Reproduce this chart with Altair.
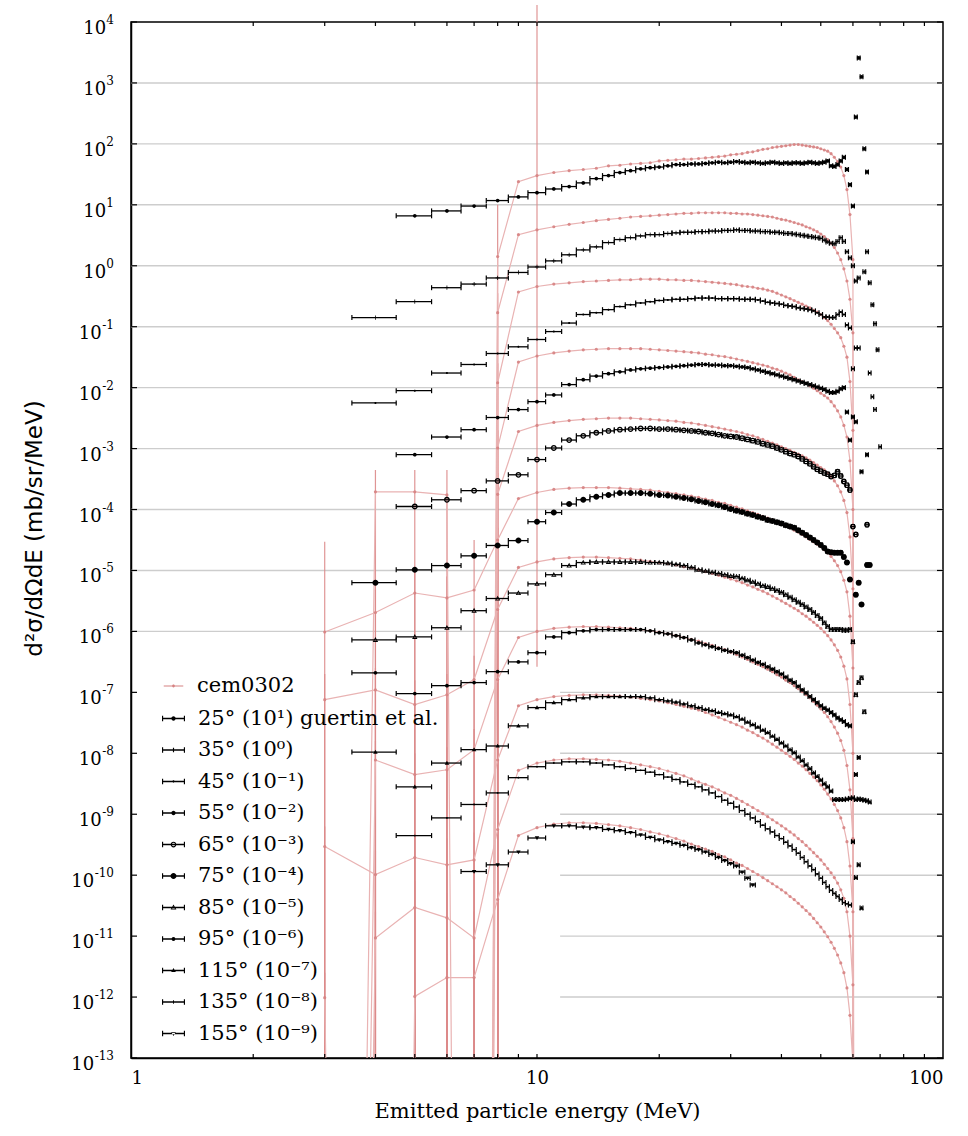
import altair as alt
import pandas as pd

# ---------------------------------------------------------------------------
# Double-differential proton spectra, measured (Guertin et al.) vs cem0302.
# Every angle is drawn multiplied by 10^p (p listed in POWERS).
# Values are log10 of d2sigma/dOmega dE in mb/sr/MeV, 1 MeV bins.
# ---------------------------------------------------------------------------
ANGLES = [25, 35, 45, 55, 65, 75, 85, 95, 115, 135, 155]
POWERS = [1, 0, -1, -2, -3, -4, -5, -6, -7, -8, -9]

# centre (MeV) of the first bin of each measured spectrum
EXP_FIRST_E = [5, 4, 4, 5, 5, 4, 4, 4, 4, 5, 7]

exp_25 = [-0.18, -0.10, -0.02, 0.07, 0.13, 0.20, 0.26, 0.30, 0.36, 0.43, 0.48, 0.53, 0.56, 0.59, 0.61,
          0.62, 0.64, 0.66, 0.66, 0.67, 0.67,
          0.68, 0.69, 0.70, 0.69, 0.70, 0.71, 0.70, 0.69, 0.70, 0.69, 0.68, 0.69, 0.70, 0.69, 0.68,
          0.69, 0.68, 0.69, 0.69, 0.68, 0.69, 0.70, 0.69, 0.68, 0.69,
          0.70, 0.72, 0.64, 0.63, 0.66, 0.72, 0.78]
exp_35 = [-0.85, -0.59, -0.36, -0.30, -0.20, -0.11, -0.02, 0.08, 0.18, 0.26, 0.31, 0.38, 0.43, 0.46,
          0.49, 0.51, 0.51, 0.53,
          0.54, 0.55, 0.55, 0.56, 0.56, 0.57, 0.57, 0.58, 0.58, 0.59, 0.58, 0.58, 0.57, 0.57,
          0.56, 0.56, 0.55, 0.55, 0.54, 0.53, 0.53, 0.52, 0.51, 0.50, 0.49, 0.48, 0.47, 0.46, 0.45,
          0.42, 0.39, 0.37, 0.36, 0.40, 0.46, 0.40]
exp_45 = [-1.25, -1.05, -0.76, -0.62, -0.44, -0.33, -0.21, -0.08, 0.06, 0.20, 0.23, 0.28, 0.33, 0.36,
          0.39, 0.41, 0.43,
          0.44, 0.45, 0.45, 0.46, 0.47, 0.47, 0.47, 0.46, 0.46, 0.46, 0.46, 0.45, 0.45, 0.45, 0.44,
          0.42, 0.40, 0.39, 0.38, 0.37, 0.35, 0.34, 0.33, 0.31, 0.30, 0.29, 0.28, 0.26, 0.23, 0.20,
          0.16, 0.16, 0.15, 0.15, 0.20, 0.24, 0.20]
exp_55 = [-1.10, -0.81, -0.69, -0.49, -0.36, -0.23, -0.12, 0.05, 0.13, 0.19, 0.23, 0.26, 0.29, 0.31,
          0.32, 0.33,
          0.34, 0.35, 0.36, 0.37, 0.38, 0.38, 0.37, 0.37, 0.36, 0.36, 0.35, 0.34, 0.33, 0.31, 0.29,
          0.27, 0.25, 0.23, 0.21, 0.19, 0.17, 0.15, 0.13, 0.11, 0.09, 0.07, 0.05, 0.03, 0.01, -0.01,
          -0.03, -0.06, -0.08, -0.08, -0.06, -0.02, 0.00]
exp_65 = [-0.95, -0.84, -0.69, -0.53, -0.43, -0.18, 0.01, 0.14, 0.21, 0.26, 0.29, 0.31, 0.32, 0.33,
          0.33, 0.32,
          0.32, 0.31, 0.30, 0.29, 0.28, 0.26, 0.25, 0.23, 0.21, 0.20, 0.19, 0.17, 0.15, 0.13, 0.11,
          0.08, 0.06, 0.04, 0.01, -0.02, -0.05, -0.08, -0.10, -0.13, -0.17, -0.21, -0.25, -0.30,
          -0.34, -0.37,
          -0.40, -0.42, -0.46, -0.44, -0.38, -0.45, -0.54]
exp_75 = [-1.20, -0.99, -0.92, -0.76, -0.59, -0.51, -0.20, -0.05, 0.09, 0.16, 0.21, 0.24, 0.27, 0.27,
          0.27, 0.26, 0.24,
          0.23, 0.21, 0.19, 0.17, 0.14, 0.12, 0.09, 0.07, 0.04, 0.01, -0.02, -0.04, -0.07, -0.09,
          -0.12,
          -0.14, -0.17, -0.19, -0.21, -0.23, -0.26, -0.28, -0.30, -0.34, -0.38, -0.42, -0.46, -0.50,
          -0.54, -0.58,
          -0.63, -0.69, -0.70, -0.71, -0.71, -0.71, -0.78]
exp_85 = [-1.14, -1.09, -0.94, -0.66, -0.46, -0.37, -0.22, -0.07, 0.08, 0.13, 0.14, 0.14, 0.14, 0.14,
          0.14, 0.13, 0.13,
          0.12, 0.10, 0.08, 0.05, 0.01, -0.01, -0.03, -0.05, -0.07, -0.09, -0.10, -0.13, -0.16,
          -0.19, -0.22,
          -0.25, -0.27, -0.30, -0.33, -0.36, -0.40, -0.44, -0.48, -0.52, -0.56, -0.60, -0.64, -0.69,
          -0.74, -0.79,
          -0.86, -0.92, -0.97, -0.97, -0.97, -0.97, -0.98]
exp_95 = [-0.68, -1.02, -0.89, -0.84, -0.66, -0.50, -0.35, -0.09, -0.02, 0.01, 0.03, 0.03, 0.03, 0.03,
          0.03, 0.01, -0.02,
          -0.04, -0.07, -0.10, -0.14, -0.19, -0.22, -0.25, -0.28, -0.31, -0.33, -0.35, -0.39, -0.43,
          -0.47, -0.51,
          -0.54, -0.58, -0.62, -0.66, -0.70, -0.75, -0.80, -0.84, -0.90, -0.96, -1.01, -1.07, -1.12,
          -1.17, -1.22,
          -1.26, -1.29, -1.33, -1.37, -1.42, -1.45, -1.48]
exp_115 = [-0.98, -1.55, -1.16, -0.94, -0.88, -0.55, -0.25, -0.17, -0.12, -0.09, -0.07, -0.07, -0.07,
           -0.07, -0.07, -0.09, -0.12,
           -0.14, -0.16, -0.19, -0.22, -0.25, -0.28, -0.30, -0.33, -0.35, -0.37, -0.40, -0.44, -0.49,
           -0.53, -0.57,
           -0.62, -0.66, -0.72, -0.77, -0.83, -0.88, -0.94, -0.99, -1.06, -1.12, -1.19, -1.25, -1.32,
           -1.38, -1.44,
           -1.50, -1.55, -1.62, -1.76, -1.76, -1.76, -1.76]
exp_135 = [-1.35, -1.06, -0.84, -0.65, -0.40, -0.22, -0.16, -0.14, -0.14, -0.16, -0.19, -0.22, -0.25,
           -0.28, -0.31, -0.35,
           -0.39, -0.43, -0.47, -0.51, -0.55, -0.60, -0.65, -0.71, -0.77, -0.82, -0.88, -0.94, -1.00,
           -1.06, -1.12,
           -1.18, -1.24, -1.29, -1.35, -1.40, -1.46, -1.52, -1.58, -1.64, -1.71, -1.78, -1.85, -1.91,
           -1.98, -2.05,
           -2.12, -2.19, -2.25, -2.30, -2.35, -2.40, -2.45]
exp_155 = [-0.94, -0.83, -0.62, -0.39, -0.19, -0.19, -0.21, -0.22, -0.25, -0.27, -0.30, -0.34, -0.38,
           -0.42,
           -0.45, -0.48, -0.51, -0.55, -0.58, -0.62, -0.66, -0.71, -0.76, -0.81, -0.85, -0.95, -1.05,
           -1.16]

# end-point region above 57 MeV: (bin centre MeV, log10 value)
tail_25 = [(58, 0.58), (59, 0.33), (60, -0.02), (61, 1.44), (62, 2.41), (63, 2.10), (64, 0.92), (65, 0.54)]
tail_35 = [(58, 0.23), (59, 0.13), (60, 0.00), (61, -0.25), (62, -0.20), (64, -0.10), (65, 0.23),
           (66, -0.28), (67, -0.64), (68, -0.95), (69, -1.38)]
tail_45 = [(58, 0.03), (59, -0.02), (60, -0.69), (61, -0.35), (62, -0.35), (66, -0.76), (67, -1.15),
           (68, -1.36), (70, -1.97)]
tail_55 = [(58, -0.40), (59, -0.86), (60, -0.48), (61, -0.56), (63, -1.38), (65, -1.10)]
tail_65 = [(58, -0.60), (59, -0.68), (60, -1.28), (61, -1.41), (65, -1.25)]
tail_75 = [(58, -0.87), (59, -1.15), (61, -1.40), (62, -1.20), (63, -1.56), (65, -0.91), (66, -0.91)]
tail_85 = [(58, -0.98), (59, -0.97), (60, -1.17), (61, -2.04), (62, -1.84), (63, -1.76), (64, -2.32)]
tail_95 = [(58, -1.53), (59, -1.55), (61, -2.35), (62, -2.07)]
tail_115 = [(58, -1.75), (59, -1.74), (60, -1.73), (61, -1.76), (62, -1.75), (63, -1.76), (64, -1.77),
            (65, -1.78), (66, -1.80), (60, -2.45), (61, -3.04), (62, -2.83), (63, -3.54)]
tail_135 = [(58, -2.47), (59, -2.49)]
tail_155 = []

# cem0302 calculation, bins from 3 MeV to 61 MeV; None = empty bin (zero cross-section)
CEM_FIRST_E = 3
cem_25 = [None, None, None, None, None, -0.85,
          0.38, 0.48, 0.53, 0.56, 0.58, 0.60, 0.64, 0.65, 0.67, 0.68, 0.69, 0.72, 0.73, 0.74,
          0.75, 0.75, 0.76, 0.77, 0.78, 0.79, 0.80, 0.82, 0.83, 0.84, 0.86, 0.87, 0.89, 0.91, 0.92,
          0.94, 0.95, 0.96, 0.97, 0.98, 0.99, 0.99, 0.98, 0.97, 0.96, 0.95, 0.94, 0.92, 0.90, 0.88,
          0.84, 0.78, 0.71, 0.62, 0.48, 0.25, -0.16, -0.90, None]
cem_35 = [None, None, None, None, None, -0.77,
          0.51, 0.59, 0.64, 0.68, 0.71, 0.74, 0.76, 0.78, 0.80, 0.81, 0.82, 0.83, 0.84, 0.85,
          0.86, 0.86, 0.87, 0.87, 0.87, 0.87, 0.87, 0.86, 0.86, 0.85, 0.85, 0.84, 0.83, 0.82, 0.81,
          0.80, 0.78, 0.76, 0.75, 0.73, 0.71, 0.69, 0.67, 0.64, 0.62, 0.59, 0.56, 0.52, 0.48, 0.43,
          0.37, 0.30, 0.21, 0.10, -0.05, -0.25, -0.55, -1.10, None]
cem_45 = [None, None, None, None, None, -0.92,
          0.57, 0.66, 0.70, 0.72, 0.74, 0.75, 0.76, 0.77, 0.77, 0.78, 0.78, 0.78, 0.77, 0.77,
          0.76, 0.76, 0.75, 0.74, 0.73, 0.72, 0.71, 0.70, 0.69, 0.67, 0.66, 0.65, 0.63, 0.62, 0.60,
          0.58, 0.55, 0.52, 0.49, 0.46, 0.43, 0.40, 0.37, 0.34, 0.31, 0.27, 0.24, 0.20, 0.15, 0.10,
          0.04, -0.03, -0.10, -0.18, -0.32, -0.50, -0.90, -1.70, None]
cem_55 = [None, -1.71, -1.71, -1.76, None, -0.99,
          0.42, 0.52, 0.57, 0.60, 0.62, 0.63, 0.64, 0.64, 0.64, 0.64, 0.63, 0.62, 0.61, 0.60,
          0.59, 0.58, 0.57, 0.55, 0.54, 0.52, 0.51, 0.49, 0.47, 0.45, 0.43, 0.41, 0.39, 0.37, 0.35,
          0.32, 0.30, 0.27, 0.24, 0.21, 0.17, 0.13, 0.10, 0.07, 0.03, -0.01, -0.05, -0.09, -0.13,
          -0.17, -0.23, -0.30, -0.38, -0.48, -0.62, -0.81, -1.20, -2.00, None]
cem_65 = [None, None, None, None, None, -0.75,
          0.28, 0.38, 0.43, 0.46, 0.48, 0.49, 0.50, 0.50, 0.50, 0.49, 0.48, 0.47, 0.46, 0.45,
          0.43, 0.42, 0.40, 0.38, 0.36, 0.34, 0.32, 0.30, 0.28, 0.26, 0.23, 0.21, 0.18, 0.15, 0.12,
          0.09, 0.06, 0.03, 0.00, -0.03, -0.06, -0.09, -0.12, -0.15, -0.19, -0.23, -0.27, -0.31,
          -0.35, -0.40, -0.46, -0.53, -0.61, -0.71, -0.85, -1.05, -1.45, -2.30, None]
cem_75 = [-2.01, -1.69, -1.37, -1.45, -1.32, -0.50,
          0.18, 0.28, 0.33, 0.35, 0.36, 0.36, 0.36, 0.35, 0.34, 0.33, 0.32, 0.30, 0.28, 0.26,
          0.24, 0.22, 0.20, 0.17, 0.15, 0.12, 0.10, 0.07, 0.04, 0.01, -0.02, -0.05, -0.08, -0.11,
          -0.14, -0.17, -0.21, -0.24, -0.27, -0.30, -0.34, -0.37, -0.41, -0.45, -0.49, -0.53, -0.57,
          -0.61, -0.66, -0.71, -0.77, -0.84, -0.92, -1.02, -1.16, -1.35, -1.75, -2.60, None]
cem_85 = [-2.12, -1.96, -2.20, -2.04, -1.79, -0.64,
          0.05, 0.14, 0.19, 0.21, 0.22, 0.22, 0.21, 0.20, 0.19, 0.17, 0.15, 0.13, 0.11, 0.09,
          0.06, 0.04, 0.01, -0.02, -0.05, -0.08, -0.11, -0.14, -0.17, -0.20, -0.24, -0.27, -0.31,
          -0.34, -0.38, -0.42, -0.46, -0.50, -0.54, -0.58, -0.62, -0.66, -0.71, -0.75, -0.80, -0.85,
          -0.90, -0.95, -1.01, -1.07, -1.14, -1.22, -1.31, -1.42, -1.57, -1.78, -2.20, -3.00, None]
cem_95 = [None, -2.11, -2.35, -2.27, -1.94, -0.79,
          -0.10, 0.00, 0.05, 0.07, 0.08, 0.08, 0.07, 0.06, 0.05, 0.03, 0.01, -0.01, -0.04,
          -0.07, -0.10, -0.13, -0.16, -0.20, -0.23, -0.27, -0.30, -0.34, -0.38, -0.42, -0.46, -0.50,
          -0.54, -0.58, -0.62, -0.66, -0.71, -0.75, -0.80, -0.84, -0.89, -0.94, -0.99, -1.04, -1.09,
          -1.15, -1.21, -1.27, -1.33, -1.40, -1.48, -1.57, -1.67, -1.79, -1.95, -2.20, -2.60, -3.40,
          None]
cem_115 = [-2.53, -2.99, -2.71, -2.83, -2.75, -1.11,
           -0.22, -0.12, -0.07, -0.05, -0.04, -0.04, -0.05, -0.06, -0.08, -0.10, -0.12,
           -0.14, -0.17, -0.20, -0.23, -0.26, -0.29, -0.33, -0.37, -0.41, -0.45, -0.49, -0.53, -0.57,
           -0.62, -0.66, -0.71, -0.75, -0.80, -0.85, -0.90, -0.95, -1.00, -1.05, -1.10, -1.16, -1.21,
           -1.27, -1.33, -1.39, -1.45, -1.52, -1.59, -1.67, -1.75, -1.84, -1.94, -2.06, -2.22, -2.45,
           -2.85, -3.60, None]
cem_135 = [None, -3.03, -2.53, -2.70, -3.03, -1.25,
           -0.28, -0.16, -0.11, -0.09, -0.09, -0.10, -0.11, -0.13, -0.16, -0.19, -0.22,
           -0.25, -0.29, -0.33, -0.37, -0.42, -0.47, -0.51, -0.55, -0.60, -0.65, -0.69, -0.74, -0.79,
           -0.84, -0.89, -0.94, -0.99, -1.04, -1.09, -1.14, -1.19, -1.24, -1.29, -1.34, -1.40, -1.45,
           -1.51, -1.57, -1.63, -1.69, -1.75, -1.82, -1.89, -1.96, -2.04, -2.13, -2.24, -2.38, -2.60,
           -3.00, -3.80, None]
cem_155 = [-3.01, None, -2.99, -2.68, -2.68, -1.40,
           -0.35, -0.22, -0.16, -0.14, -0.14, -0.15, -0.17, -0.19, -0.22, -0.25, -0.29,
           -0.32, -0.36, -0.40, -0.44, -0.49, -0.53, -0.57, -0.61, -0.66, -0.70, -0.75, -0.80, -0.84,
           -0.89, -0.94, -0.99, -1.04, -1.09, -1.14, -1.19, -1.24, -1.29, -1.35, -1.40, -1.46, -1.52,
           -1.58, -1.64, -1.71, -1.78, -1.85, -1.93, -2.01, -2.10, -2.20, -2.31, -2.44, -2.60, -2.85,
           -3.30, -4.10, None]

# statistical error bars of the calculation that are large enough to see:
# (angle, energy, log10 lower, log10 upper); lower None = bar reaches zero
cem_errors = [(25, 8, None, 0.00), (35, 8, None, -0.45), (45, 8, None, -0.60),
              (55, 4, None, -1.35), (55, 5, None, -1.35), (55, 6, None, -1.35), (55, 8, None, -0.70),
              (65, 8, None, -0.40),
              (75, 3, None, -0.53), (75, 4, None, -1.30), (75, 5, None, -1.00), (75, 6, None, -1.10),
              (75, 7, None, -0.50), (75, 8, None, -0.30),
              (85, 3, None, -1.70), (85, 4, None, -1.60), (85, 5, None, -1.80), (85, 6, None, -1.70),
              (85, 7, None, -1.40), (85, 8, None, -0.45),
              (95, 4, None, -1.80), (95, 5, None, -2.00), (95, 6, None, -1.90), (95, 7, None, -1.60),
              (95, 8, None, -0.60), (95, 10, -0.58, 10.28),
              (115, 3, None, -2.20), (115, 4, None, -2.60), (115, 5, None, -2.30), (115, 6, None, -2.40),
              (115, 7, None, -2.30), (115, 8, None, -0.90),
              (135, 4, None, -2.60), (135, 5, None, -2.10), (135, 6, None, -2.30), (135, 7, None, -2.60),
              (135, 8, None, -1.00),
              (155, 3, None, -2.60), (155, 5, None, -2.60), (155, 6, None, -2.30), (155, 7, None, -2.30),
              (155, 8, None, -1.10)]

# horizontal grid at every decade; the lower ones start right of the legend
GRID_DECADES = list(range(-12, 4))
GRID_FROM_E = {-7: 11.4, -8: 11.4, -9: 11.4, -10: 11.4, -11: 11.4, -12: 11.4}

Y_DECADES = list(range(-13, 5))
X_TICKS = [1, 10, 100]
X_MINOR = [2, 3, 4, 5, 6, 7, 8, 9, 10, 20, 30, 40, 50, 60, 70, 80, 90]

EXP_SERIES = [exp_25, exp_35, exp_45, exp_55, exp_65, exp_75, exp_85, exp_95, exp_115, exp_135, exp_155]
EXP_TAILS = [tail_25, tail_35, tail_45, tail_55, tail_65, tail_75, tail_85, tail_95, tail_115, tail_135,
             tail_155]
CEM_SERIES = [cem_25, cem_35, cem_45, cem_55, cem_65, cem_75, cem_85, cem_95, cem_115, cem_135, cem_155]

Y_MIN, Y_MAX = 1e-13, 1e4
FLOOR = 1e-60  # an empty bin sends the line off the bottom of the log axis
SUP = str.maketrans("0123456789-", "⁰¹²³⁴⁵⁶⁷⁸⁹⁻")

RED_LINE = "#e9b3b3"
RED_DOT = "#d68282"
RED_BAR = "#dc8a8a"
GRID = "#cdcdcd"
SERIF = "DejaVu Serif"
SANS = "DejaVu Sans"
W, H = 812, 1036


def circle(r):
    return f"M{r},0A{r},{r},0,1,1,{-r},0A{r},{r},0,1,1,{r},0Z"


def ring(r, t):
    q = round(r - t, 3)
    return circle(r) + f"M{q},0A{q},{q},0,1,0,{-q},0A{q},{q},0,1,0,{q},0Z"


TRI_UP = "M0,-1L0.95,0.7L-0.95,0.7Z"
TRI_UP_OPEN = TRI_UP + "M0,-0.35L-0.42,0.4L0.42,0.4Z"
TRI_DOWN = "M0,1L0.95,-0.7L-0.95,-0.7Z"
PLUS = "M-0.18,-1H0.18V-0.18H1V0.18H0.18V1H-0.18V0.18H-1V-0.18H-0.18Z"

# point glyphs on the spectra: (svg path in the unit box, area)
PLOT_MARKERS = {25: (circle(0.8), 22), 35: (PLUS, 18), 45: (circle(0.5), 16), 55: (circle(0.8), 22),
                65: (ring(1, 0.45), 34), 75: (circle(1), 36), 85: (TRI_UP_OPEN, 32),
                95: (circle(0.8), 22), 115: (TRI_UP, 22), 135: (circle(0.5), 14), 155: (TRI_DOWN, 22)}


# legend glyphs (all filled): error bar with end caps plus the angle's marker
def bar_glyph(mark):
    bar = "M-1,-0.06H1V0.06H-1Z"
    caps = "M-1,-0.24H-0.9V0.24H-1ZM0.9,-0.24H1V0.24H0.9Z"
    return bar + caps + mark


LEGEND_MARKS = {25: circle(0.19), 35: "M-0.05,-0.2H0.05V0.2H-0.05Z", 45: circle(0.1), 55: circle(0.19),
                65: ring(0.25, 0.1), 75: circle(0.26),
                85: "M0,-0.26L0.25,0.18L-0.25,0.18ZM0,-0.1L-0.12,0.1L0.12,0.1Z",
                95: circle(0.17), 115: "M0,-0.22L0.2,0.14L-0.2,0.14Z", 135: "M-0.04,-0.15H0.04V0.15H-0.04Z",
                155: "M0,0.22L0.2,-0.14L-0.2,-0.14Z"}
CEM_GLYPH = "M-0.85,-0.04H0.85V0.04H-0.85Z" + circle(0.12)


def label_for(angle, power):
    text = f"{angle}° (10{str(power).translate(SUP)})"
    return text + " guertin et al." if angle == 25 else text


LABELS = [label_for(a, p) for a, p in zip(ANGLES, POWERS)]

# ---------------- tables -------------------------------------------------------
exp_rows = []
for angle, power, first, vals, tail in zip(ANGLES, POWERS, EXP_FIRST_E, EXP_SERIES, EXP_TAILS):
    shape, size = PLOT_MARKERS[angle]
    pairs = [(first + j, v) for j, v in enumerate(vals)] + list(tail)
    for e, v in pairs:
        exp_rows.append({"angle": angle, "E": e, "lo": e - 0.5, "hi": e + 0.5,
                         "y": 10.0 ** (v + power), "shape": shape, "size": size})
exp_df = pd.DataFrame(exp_rows)
caps_df = pd.concat([exp_df[["angle", "lo", "y"]].rename(columns={"lo": "xe"}),
                     exp_df[["angle", "hi", "y"]].rename(columns={"hi": "xe"})])

cem_rows = []
for angle, power, vals in zip(ANGLES, POWERS, CEM_SERIES):
    for j, v in enumerate(vals):
        cem_rows.append({"angle": angle, "E": CEM_FIRST_E + j,
                         "y": FLOOR if v is None else 10.0 ** (v + power), "empty": v is None})
cem_df = pd.DataFrame(cem_rows)
cem_pts = cem_df[~cem_df["empty"]]

power_of = dict(zip(ANGLES, POWERS))
err_df = pd.DataFrame([{"E": e,
                        "lo": Y_MIN if lo is None else 10.0 ** (lo + power_of[a]),
                        "hi": 10.0 ** (hi + power_of[a])} for a, e, lo, hi in cem_errors])

grid_df = pd.DataFrame([{"y": 10.0 ** k, "x0": GRID_FROM_E.get(k, 1), "x1": 100} for k in GRID_DECADES])


# y tick labels "10" with a raised exponent, right-aligned against the axis
def exp_width(k):
    s = str(k)
    return 7.4 * sum(c.isdigit() for c in s) + 4.5 * s.count("-")


ylab_df = pd.DataFrame([{"y": 10.0 ** k, "base": "10", "sup": str(k), "bx": -17 - exp_width(k) - 0.5}
                        for k in Y_DECADES])
ytick_df = pd.DataFrame({"y": [10.0 ** k for k in Y_DECADES]})
xtick_df = pd.DataFrame({"x": X_MINOR})

legend_cem_df = pd.DataFrame({"model": ["cem0302"]})
legend_exp_df = pd.DataFrame({"dataset": LABELS})

# ---------------- scales / axes -----------------------------------------------
xs = alt.Scale(type="log", domain=[1, 100], nice=False)
ys = alt.Scale(type="log", domain=[Y_MIN, Y_MAX], nice=False)

y_axis = alt.Axis(values=[10.0 ** k for k in Y_DECADES], labels=False, ticks=False, grid=False,
                  title="d²σ/dΩdE (mb/sr/MeV)", titleFont=SANS, titleFontSize=23,
                  titleFontWeight="normal", titleColor="black", titleX=-97, titleY=506,
                  titleAngle=-90, titleAlign="center", titleBaseline="middle",
                  domainColor="black", domainWidth=1.5)
x_axis = alt.Axis(values=X_TICKS, format="d", title="Emitted particle energy (MeV)",
                  titleFont=SERIF, titleFontSize=21, titleFontWeight="normal", titleColor="black",
                  titleY=42, titleBaseline="top", labelFont=SERIF, labelFontSize=18,
                  labelColor="black", labelPadding=11, ticks=False, grid=False,
                  domainColor="black", domainWidth=1.5)

# ---------------- layers -------------------------------------------------------
grid = alt.Chart(grid_df).mark_rule(color=GRID, strokeWidth=1.4).encode(
    x=alt.X("x0:Q", scale=xs, axis=x_axis), x2="x1:Q",
    y=alt.Y("y:Q", scale=ys, axis=y_axis))

ytick_l = alt.Chart(ytick_df).mark_rule(color="black", strokeWidth=1.2).encode(
    y=alt.Y("y:Q", scale=ys), x=alt.value(0), x2=alt.value(6))
ytick_r = alt.Chart(ytick_df).mark_rule(color="black", strokeWidth=1.2).encode(
    y=alt.Y("y:Q", scale=ys), x=alt.value(W - 6), x2=alt.value(W))
xtick_b = alt.Chart(xtick_df).mark_rule(color="black", strokeWidth=1.2).encode(
    x=alt.X("x:Q", scale=xs), y=alt.value(H - 4), y2=alt.value(H))
xtick_t = alt.Chart(xtick_df).mark_rule(color="black", strokeWidth=1.2).encode(
    x=alt.X("x:Q", scale=xs), y=alt.value(0), y2=alt.value(4))

ylab_base = alt.Chart(ylab_df).mark_text(font=SERIF, fontSize=18, align="right", baseline="alphabetic",
                                         dy=12, color="black", clip=False).encode(
    x=alt.X("bx:Q", scale=None), y=alt.Y("y:Q", scale=ys), text="base:N")
ylab_sup = alt.Chart(ylab_df).mark_text(font=SERIF, fontSize=12, align="right", baseline="alphabetic",
                                        dy=2, color="black", clip=False).encode(
    x=alt.value(-17), y=alt.Y("y:Q", scale=ys), text="sup:N")

cem_err = alt.Chart(err_df).mark_rule(color=RED_BAR, strokeWidth=1.2, opacity=0.9).encode(
    x=alt.X("E:Q", scale=xs), y=alt.Y("lo:Q", scale=ys), y2="hi:Q")

cem_line = alt.Chart(cem_df).mark_line(color=RED_LINE, strokeWidth=1.2, clip=True).encode(
    x=alt.X("E:Q", scale=xs), y=alt.Y("y:Q", scale=ys), detail="angle:N", order="E:Q")

cem_dots = alt.Chart(cem_pts).mark_point(filled=True, color=RED_DOT, size=10, opacity=0.9,
                                         clip=True).encode(
    x=alt.X("E:Q", scale=xs), y=alt.Y("y:Q", scale=ys))

exp_bars = alt.Chart(exp_df).mark_rule(color="black", strokeWidth=1.3, clip=True).encode(
    x=alt.X("lo:Q", scale=xs), x2="hi:Q", y=alt.Y("y:Q", scale=ys))

exp_caps = alt.Chart(caps_df).mark_rule(color="black", strokeWidth=1.2, yOffset=-2.5, y2Offset=2.5,
                                        clip=True).encode(
    x=alt.X("xe:Q", scale=xs), y=alt.Y("y:Q", scale=ys), y2="y:Q")

exp_pts = alt.Chart(exp_df).mark_point(filled=True, color="black", opacity=1, clip=True).encode(
    x=alt.X("E:Q", scale=xs), y=alt.Y("y:Q", scale=ys),
    shape=alt.Shape("shape:N", scale=None), size=alt.Size("size:Q", scale=None))

leg_common = dict(orient="none", legendX=31, title=None, labelFont=SERIF, labelFontSize=21,
                  labelColor="black", labelLimit=500, symbolSize=529, symbolStrokeWidth=0,
                  symbolOpacity=1, padding=0, rowPadding=9.5)

leg_cem = alt.Chart(legend_cem_df).transform_filter("false").mark_point(
    filled=True, color=RED_DOT, opacity=1).encode(
    shape=alt.Shape("model:N", scale=alt.Scale(domain=["cem0302"], range=[CEM_GLYPH]),
                    legend=alt.Legend(legendY=652.5, symbolFillColor=RED_DOT, labelOffset=12,
                                      **leg_common)))

leg_exp = alt.Chart(legend_exp_df).transform_filter("false").mark_point(
    filled=True, color="black", opacity=1).encode(
    shape=alt.Shape("dataset:N",
                    scale=alt.Scale(domain=LABELS, range=[bar_glyph(LEGEND_MARKS[a]) for a in ANGLES]),
                    legend=alt.Legend(legendY=685, symbolFillColor="black", labelOffset=13,
                                      **leg_common)))

chart = alt.layer(grid, cem_err, cem_line, cem_dots, exp_bars, exp_caps, exp_pts,
                  ytick_l, ytick_r, xtick_b, xtick_t, ylab_base, ylab_sup,
                  leg_cem, leg_exp).resolve_scale(shape="independent").properties(
    width=W, height=H,
    padding={"left": 131, "top": 22, "right": 25, "bottom": 78},
    autosize=alt.AutoSizeParams(type="none"),
    background="white",
).configure_view(stroke="black", strokeWidth=1.5)

chart.save("out.html", embed_options={"renderer": "svg", "actions": False})
